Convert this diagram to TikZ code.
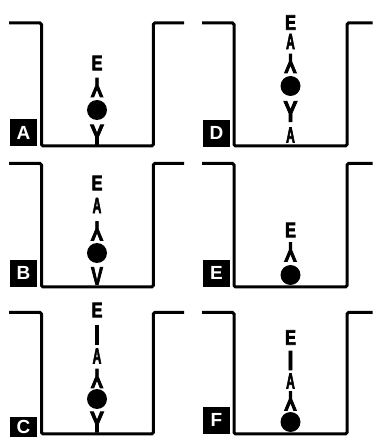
\documentclass[tikz,border=0pt]{standalone}
\usepackage{fontspec}
\setmainfont{Liberation Sans}
\newfontfamily\heavyfont[FakeBold=3.5]{Liberation Sans}
\begin{document}
\begin{tikzpicture}[x=1pt, y=1pt, line width=3pt,
    glyph/.style={inner sep=0pt, font=\heavyfont\fontsize{21}{21}\selectfont\bfseries},
    enz/.style={glyph, xscale=0.78},
    lnk/.style={glyph, xscale=0.58, yscale=1.05},
    bar/.style={glyph, yscale=1.3},
    ab/.style={glyph, yscale=1.4},
    abinv/.style={glyph, rotate=180, xscale=0.9, yscale=1.3},
    abv/.style={glyph, xscale=0.85, yscale=1.2},
    bead/.style={circle, fill=black, inner sep=0pt, minimum size=20pt},
    tag/.style={fill=black, text=white, minimum size=27pt, inner sep=0pt, font=\fontsize{19}{19}\selectfont\bfseries}]
    \clip (0,0) rectangle (374,437);
    \draw[rounded corners=1.5pt] (9,414) -- (41.5,414) -- (41.5,291) -- (153.3,291) -- (153.3,414) -- (184,414);
    \draw[rounded corners=1.5pt] (9,273.5) -- (41.5,273.5) -- (41.5,150) -- (153.3,150) -- (153.3,273.5) -- (184,273.5);
    \draw[rounded corners=1.5pt] (9,124.5) -- (41.5,124.5) -- (41.5,3) -- (153.3,3) -- (153.3,124.5) -- (184,124.5);
    \draw[rounded corners=1.5pt] (202,414) -- (234,414) -- (234,291) -- (347,291) -- (347,414) -- (372.5,414);
    \draw[rounded corners=1.5pt] (202,273.5) -- (234,273.5) -- (234,150) -- (347,150) -- (347,273.5) -- (372.5,273.5);
    \draw[rounded corners=1.5pt] (202,124.5) -- (234,124.5) -- (234,3) -- (347,3) -- (347,124.5) -- (372.5,124.5);
    \node[tag] (tA) at (23.5,304) {A};
    \node[tag] (tB) at (23.5,163.7) {B};
    \node[tag, minimum height=20.3pt] (tC) at (23.5,10.2) {C};
    \node[tag] (tD) at (216.5,303.7) {D};
    \node[tag] (tE) at (216.5,163.7) {E};
    \node[tag] (tF) at (216.5,16.7) {F};
    \begin{scope}[shift={(97,291)}]
        \node[ab] (a1) at (0,11) {Y};
        \node[bead] (a2) at (0,36) {};
        \node[abinv] (a3) at (0,58.5) {Y};
        \node[enz] (a4) at (0,83) {E};
    \end{scope}
    \begin{scope}[shift={(97,150)}]
        \node[abv] (b1) at (0,11) {V};
        \node[bead] (b2) at (0,34) {};
        \node[abinv] (b3) at (0,56) {Y};
        \node[lnk] (b4) at (0,81.5) {A};
        \node[enz] (b5) at (0,104) {E};
    \end{scope}
    \begin{scope}[shift={(97,3)}]
        \node[ab] (c1) at (0,12) {Y};
        \node[bead] (c2) at (0,35) {};
        \node[abinv] (c3) at (0,55.5) {Y};
        \node[lnk] (c4) at (0,78) {A};
        \node[bar] (c5) at (0,99) {I};
        \node[enz] (c6) at (0,124) {E};
    \end{scope}
    \begin{scope}[shift={(290.5,291)}]
        \node[lnk] (d1) at (0,11) {A};
        \node[ab] (d2) at (0,34.5) {Y};
        \node[bead] (d3) at (0,60) {};
        \node[abinv] (d4) at (0,82.5) {Y};
        \node[lnk] (d5) at (0,104.5) {A};
        \node[enz] (d6) at (0,123.5) {E};
    \end{scope}
    \begin{scope}[shift={(290.5,150)}]
        \coordinate (e0) at (0,0);
        \node[bead] (e1) at (0,12) {};
        \node[abinv] (e2) at (0,35) {Y};
        \node[enz] (e3) at (0,57) {E};
        \draw (e1) -- (e0);
    \end{scope}
    \begin{scope}[shift={(290.5,3)}]
        \coordinate (f0) at (0,0);
        \node[bead] (f1) at (0,12) {};
        \node[abinv] (f2) at (0,33) {Y};
        \node[lnk] (f3) at (0,53) {A};
        \node[bar] (f4) at (0,73.5) {I};
        \node[enz] (f5) at (0,96.5) {E};
        \draw (f1) -- (f0);
    \end{scope}
\end{tikzpicture}
\end{document}
